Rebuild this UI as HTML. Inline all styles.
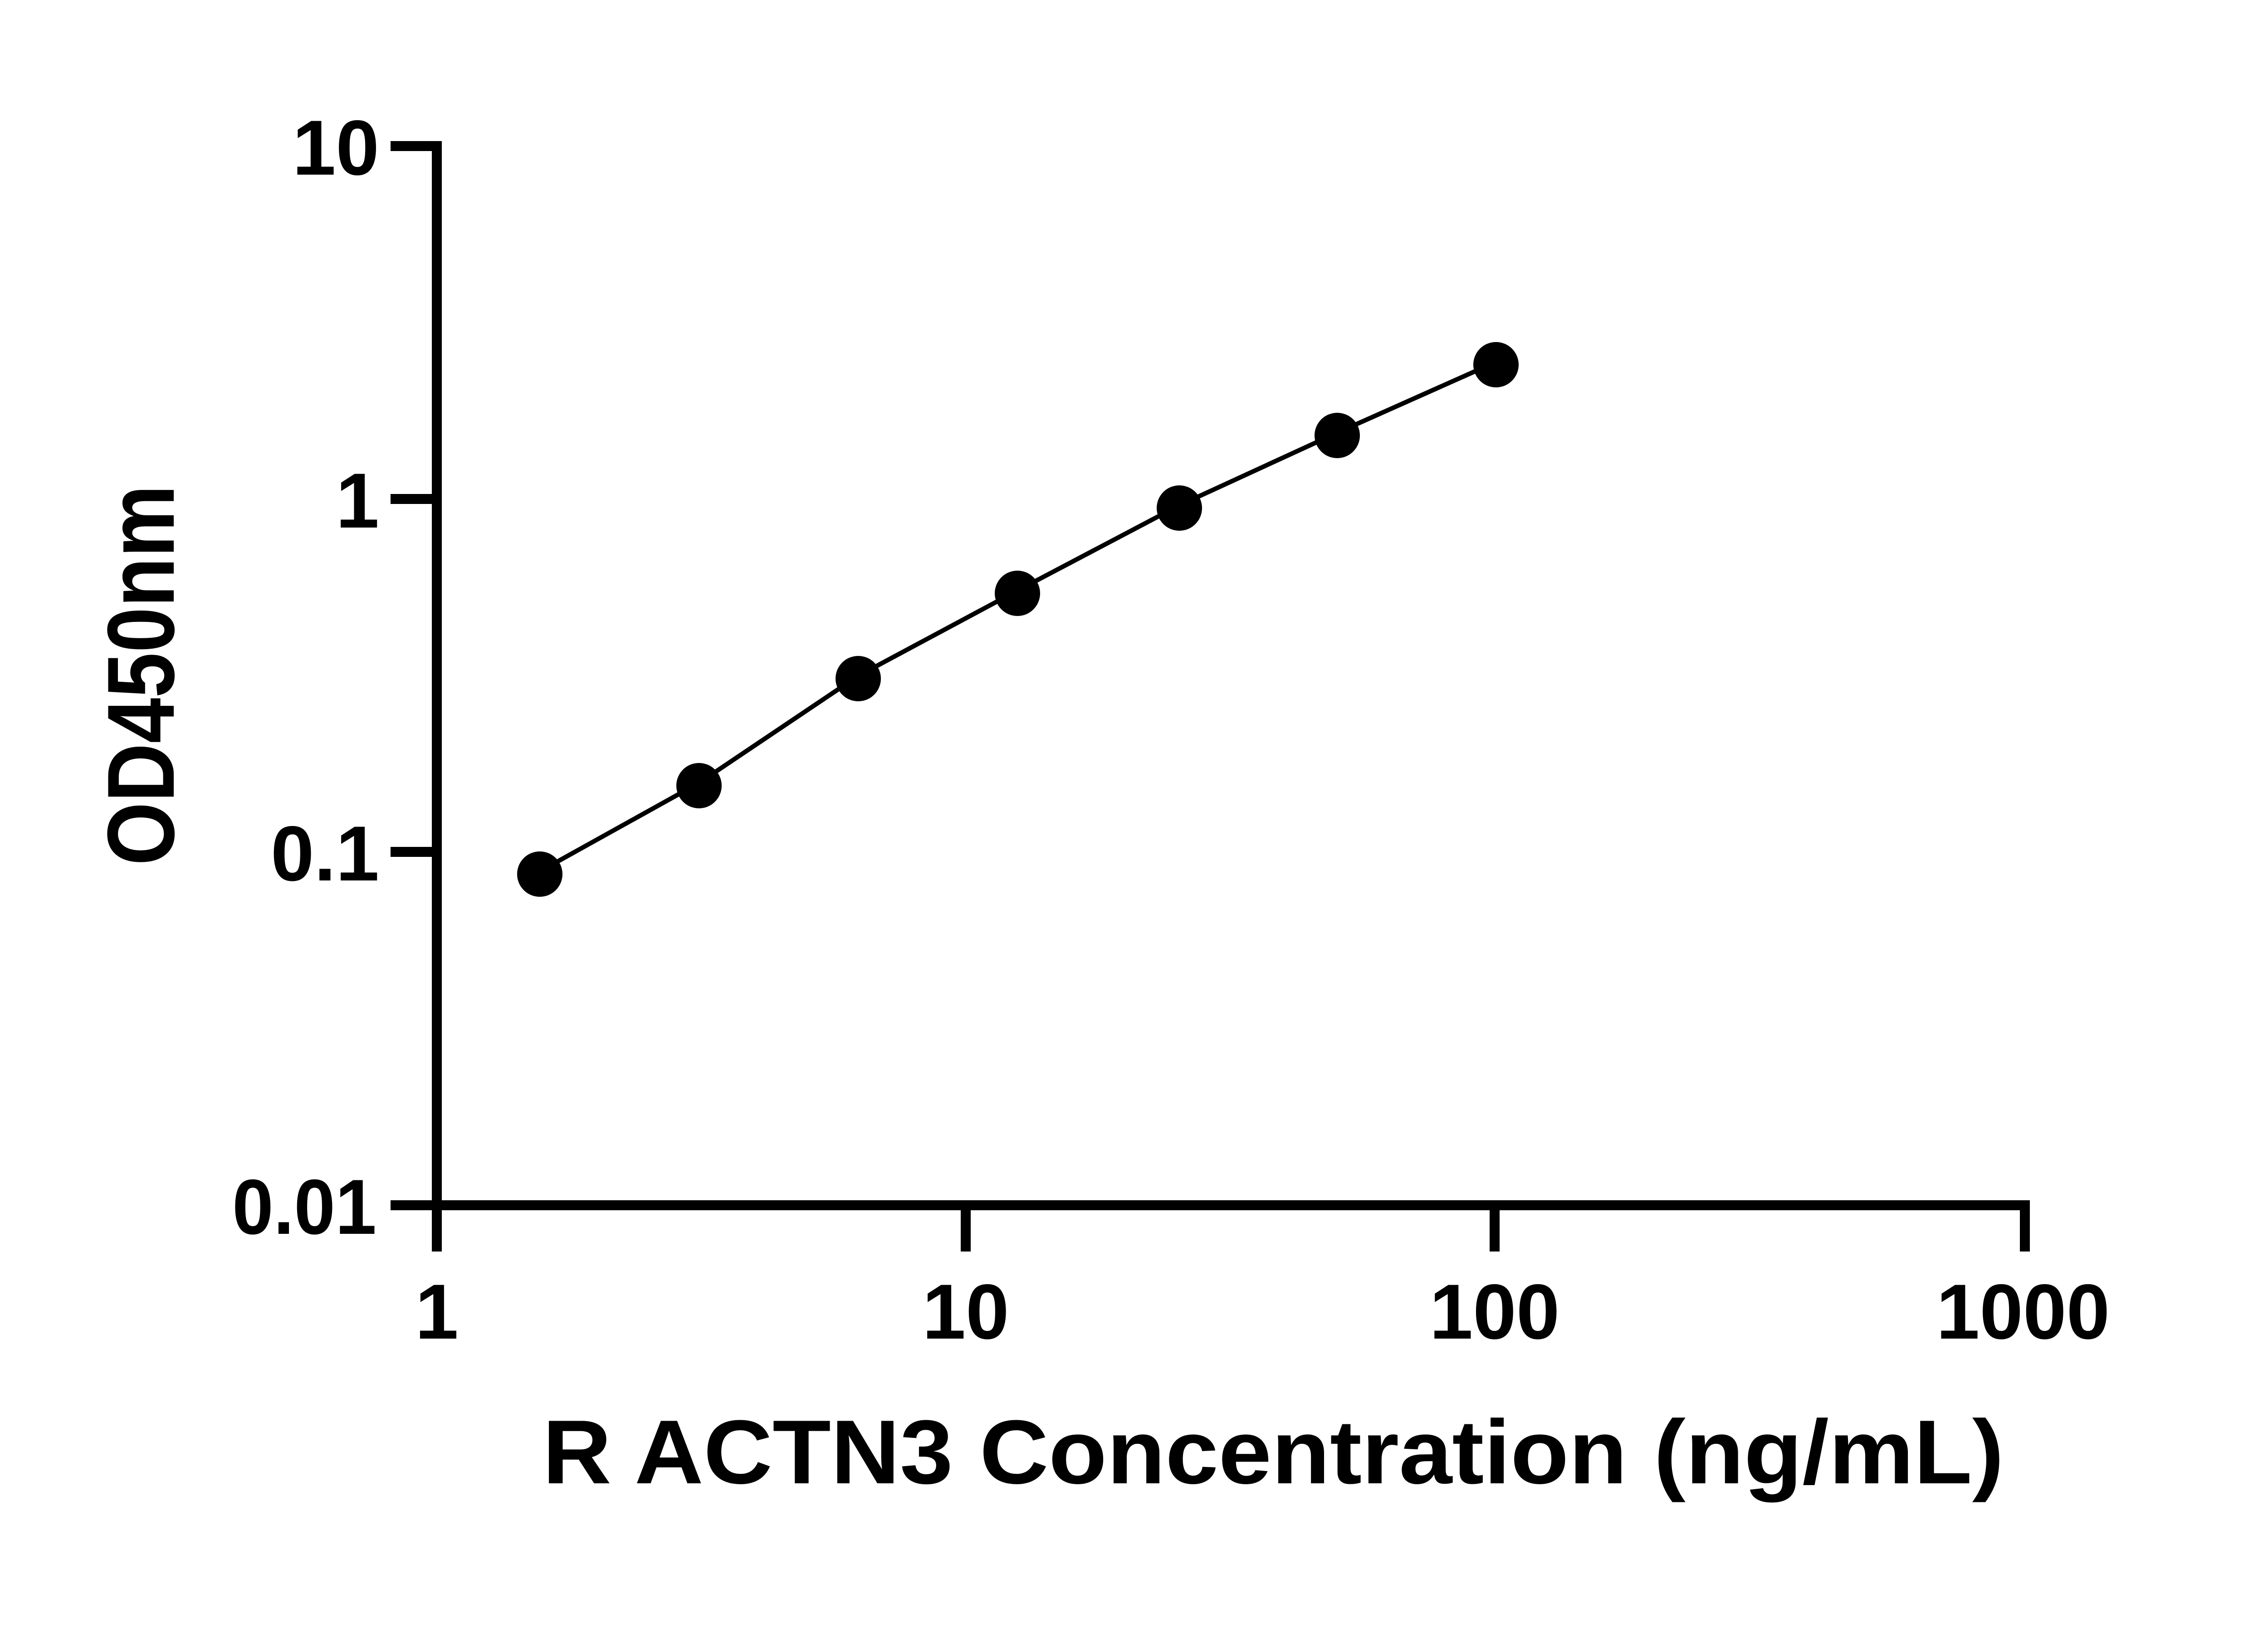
<!DOCTYPE html>
<html><head><meta charset="utf-8"><style>
html,body{margin:0;padding:0;background:#fff;}
svg{display:block;}
text{font-family:"Liberation Sans",sans-serif;font-weight:bold;fill:#000;}
</style></head><body>
<svg width="5142" height="3600" viewBox="0 0 5142 3600" xmlns="http://www.w3.org/2000/svg">
<rect width="5142" height="3600" fill="#fff"/>
<g stroke="#000" stroke-width="22" fill="none" stroke-linecap="butt">
<path d="M963 322 V2668"/>
<path d="M952 2657 H4464 V2759"/>
<path d="M861 322 H974"/>
<path d="M861 1100 H963"/>
<path d="M861 1878 H963"/>
<path d="M861 2657 H963"/>
<path d="M963 2657 V2759"/>
<path d="M2129 2657 V2759"/>
<path d="M3295 2657 V2759"/>
</g>
<g font-size="172" text-anchor="end">
<text x="836" y="385">10</text>
<text x="836" y="1163">1</text>
<text x="836" y="1941">0.1</text>
<text x="830" y="2720" textLength="318" lengthAdjust="spacingAndGlyphs">0.01</text>
</g>
<g font-size="172" text-anchor="middle">
<text x="963" y="2951">1</text>
<text x="2129" y="2951">10</text>
<text x="3295" y="2951">100</text>
<text x="4460" y="2951">1000</text>
</g>
<text x="1196" y="3270" font-size="200" textLength="3222" lengthAdjust="spacingAndGlyphs">R ACTN3 Concentration (ng/mL)</text>
<text transform="translate(383,1908) rotate(-90)" font-size="210" textLength="839" lengthAdjust="spacingAndGlyphs">OD450nm</text>
<polyline fill="none" stroke="#000" stroke-width="10" stroke-linejoin="round" points="1190,1921 1541,1726 1892,1490 2243,1302 2600,1114 2948,954 3298,798"/>
<g fill="#000">
<circle cx="1190" cy="1927" r="50"/>
<circle cx="1541" cy="1732" r="50"/>
<circle cx="1892" cy="1496" r="50"/>
<circle cx="2243" cy="1308" r="50"/>
<circle cx="2600" cy="1120" r="50"/>
<circle cx="2948" cy="960" r="50"/>
<circle cx="3298" cy="804" r="50"/>
</g>
</svg>
</body></html>
